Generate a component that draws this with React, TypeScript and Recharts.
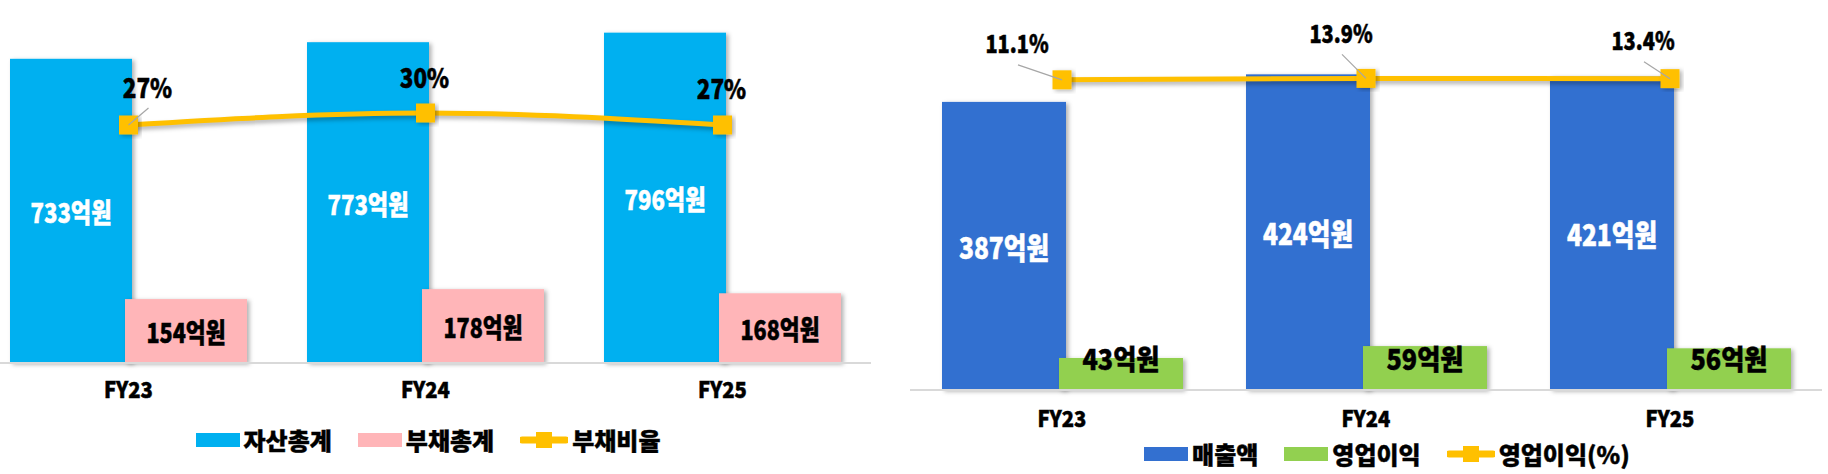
import React from 'react';
import { ComposedChart, Bar, Line, XAxis, YAxis, Legend } from 'recharts';

// 재무상태 (억원, %)
const years = ['FY23', 'FY24', 'FY25'];
const totalAssets = [733, 773, 796];
const totalLiabilities = [154, 178, 168];
const debtRatio = [27, 30, 27];

// 손익 (억원, %)
const revenue = [387, 424, 421];
const operatingProfit = [43, 59, 56];
const operatingMargin = [11.1, 13.9, 13.4];

const balanceSeries = ['자산총계', '부채총계', '부채비율'];
const incomeSeries = ['매출액', '영업이익', '영업이익(%)'];

const balanceData = years.map((year, i) => ({
  year,
  assets: totalAssets[i],
  liabilities: totalLiabilities[i],
  ratio: debtRatio[i],
}));

const incomeData = years.map((year, i) => ({
  year,
  revenue: revenue[i],
  profit: operatingProfit[i],
  margin: operatingMargin[i],
}));

// label placement for the % labels (offset from the point, leader line or not)
const ratioLabelShift = [
  { dx: 19, dy: -39, leader: true },
  { dx: -1, dy: -37, leader: false },
  { dx: -1, dy: -38, leader: false },
];
const marginLabelShift = [
  { dx: -45, dy: -37, leader: true },
  { dx: -25, dy: -46, leader: true },
  { dx: -27, dy: -39, leader: true },
];

const FONT = "'Noto Sans CJK KR', 'Noto Sans', sans-serif";
const YELLOW = '#FFC000';

const SqueezedText = ({ x, y, text, size, fill = '#000', squeeze = 0.82 }: any) => (
  <text
    transform={`translate(${x},${y}) scale(${squeeze},1)`}
    textAnchor="middle"
    dominantBaseline="central"
    fontFamily={FONT}
    fontWeight={900}
    fontSize={size}
    fill={fill}
    stroke={fill}
    strokeWidth={0.5}
  >
    {text}
  </text>
);

const box = (p: any) => {
  const vb = p.viewBox && p.viewBox.width != null ? p.viewBox : p;
  return { x: Number(vb.x), y: Number(vb.y), width: Number(vb.width), height: Number(vb.height) };
};

const middleLabel = (size: number, fill: string, squeeze: number) => (p: any) => {
  const b = box(p);
  return (
    <SqueezedText
      key={`m-${p.index}`}
      x={b.x + b.width / 2}
      y={b.y + b.height / 2}
      text={`${p.value}억원`}
      size={size}
      fill={fill}
      squeeze={squeeze}
    />
  );
};

const baseLabel = (fromBottom: number, size: number, squeeze: number) => (p: any) => {
  const b = box(p);
  return (
    <SqueezedText
      key={`b-${p.index}`}
      x={b.x + b.width / 2}
      y={b.y + b.height - fromBottom}
      text={`${p.value}억원`}
      size={size}
      squeeze={squeeze}
    />
  );
};

const pointLabel = (shifts: any[], size: number, squeeze: number, digits: number) => (p: any) => {
  const s = shifts[p.index] || { dx: 0, dy: -30, leader: false };
  const lx = Number(p.x) + s.dx;
  const ly = Number(p.y) + s.dy;
  return (
    <g key={`p-${p.index}`}>
      {s.leader && (
        <line x1={lx + 1} y1={ly + 22} x2={Number(p.x)} y2={Number(p.y)} stroke="#A6A6A6" strokeWidth={1.2} />
      )}
      <SqueezedText x={lx} y={ly} text={`${Number(p.value).toFixed(digits)}%`} size={size} squeeze={squeeze} />
    </g>
  );
};

const barShape = (filterId: string) => (p: any) => (
  <rect x={p.x} y={p.y} width={p.width} height={p.height} fill={p.fill} filter={`url(#${filterId})`} />
);

const squareDot = (filterId: string) => (p: any) => (
  <rect
    key={`d-${p.index}`}
    x={p.cx - 9.5}
    y={p.cy - 9.5}
    width={19}
    height={19}
    fill={YELLOW}
    filter={`url(#${filterId})`}
  />
);

const yearTick = (down: number) => (p: any) => (
  <SqueezedText x={p.x} y={p.y + down} text={p.payload.value} size={22} squeeze={0.92} />
);

const legendContent = (order: string[], shift: number) => (props: any) => {
  const payload = [...(props.payload || [])].sort(
    (a: any, b: any) => order.indexOf(a.value) - order.indexOf(b.value)
  );
  return (
    <div
      style={{
        display: 'flex',
        justifyContent: 'center',
        alignItems: 'center',
        height: 24,
        transform: `translateX(${shift}px)`,
      }}
    >
      {payload.map((entry: any, i: number) => (
        <div key={entry.value} style={{ display: 'flex', alignItems: 'center', marginLeft: i ? 26 : 0 }}>
          {entry.type === 'line' ? (
            <svg width={48} height={18}>
              <line x1={2} y1={9} x2={46} y2={9} stroke={YELLOW} strokeWidth={7} strokeLinecap="round" />
              <rect x={16} y={1} width={16} height={16} fill={YELLOW} />
            </svg>
          ) : (
            <div style={{ width: 44, height: 14, background: entry.color }} />
          )}
          <span
            style={{
              marginLeft: 4,
              fontFamily: FONT,
              fontWeight: 900,
              fontSize: 24,
              lineHeight: '24px',
              color: '#000',
              WebkitTextStroke: '0.4px #000',
            }}
          >
            {entry.value}
          </span>
        </div>
      ))}
    </div>
  );
};

const ShadowDefs = ({ id }: { id: string }) => (
  <defs>
    <filter id={id} x="-20%" y="-20%" width="140%" height="140%">
      <feDropShadow dx={2.5} dy={1.5} stdDeviation={2} floodColor="#000" floodOpacity={0.3} />
    </filter>
  </defs>
);

const BalanceChart = () => (
  <ComposedChart
    width={891}
    height={474}
    data={balanceData}
    margin={{ top: 31, right: 0, bottom: 22, left: 0 }}
    barGap={-7}
  >
    <ShadowDefs id="shadowLeft" />
    <XAxis
      dataKey="year"
      height={65}
      tickLine={false}
      tickSize={0}
      tickMargin={0}
      axisLine={{ stroke: '#D9D9D9', strokeWidth: 2 }}
      tick={yearTick(25)}
    />
    <YAxis yAxisId="amount" hide domain={[0, 800]} />
    <YAxis yAxisId="ratio" hide domain={[-32.5, 50.5]} />
    <Bar
      yAxisId="amount"
      dataKey="assets"
      name={balanceSeries[0]}
      fill="#00B0F0"
      barSize={122}
      legendType="rect"
      isAnimationActive={false}
      shape={barShape('shadowLeft')}
      label={middleLabel(27, '#fff', 0.82)}
    />
    <Bar
      yAxisId="amount"
      dataKey="liabilities"
      name={balanceSeries[1]}
      fill="#FFB5B8"
      barSize={122}
      legendType="rect"
      isAnimationActive={false}
      shape={barShape('shadowLeft')}
      label={middleLabel(27, '#000', 0.8)}
    />
    <Line
      yAxisId="ratio"
      dataKey="ratio"
      name={balanceSeries[2]}
      type="monotone"
      stroke={YELLOW}
      strokeWidth={5}
      legendType="line"
      isAnimationActive={false}
      dot={squareDot('shadowLeft')}
      activeDot={false}
      style={{ filter: 'drop-shadow(1px 3px 2px rgba(0,0,0,0.3))' }}
      label={pointLabel(ratioLabelShift, 27, 0.83, 0)}
    />
    <Legend verticalAlign="bottom" content={legendContent(balanceSeries, 3)} />
  </ComposedChart>
);

const IncomeChart = () => (
  <ComposedChart
    width={912}
    height={474}
    data={incomeData}
    margin={{ top: 55, right: 0, bottom: 8, left: 0 }}
    barGap={-7}
  >
    <ShadowDefs id="shadowRight" />
    <XAxis
      dataKey="year"
      height={52}
      tickLine={false}
      tickSize={0}
      tickMargin={0}
      axisLine={{ stroke: '#D9D9D9', strokeWidth: 2 }}
      tick={yearTick(27)}
    />
    <YAxis yAxisId="amount" hide domain={[0, 450]} />
    <YAxis yAxisId="margin" hide domain={[-600, 60]} />
    <Bar
      yAxisId="amount"
      dataKey="revenue"
      name={incomeSeries[0]}
      fill="#3370D0"
      barSize={124}
      legendType="rect"
      isAnimationActive={false}
      shape={barShape('shadowRight')}
      label={middleLabel(30, '#fff', 0.82)}
    />
    <Bar
      yAxisId="amount"
      dataKey="profit"
      name={incomeSeries[1]}
      fill="#92D050"
      barSize={124}
      legendType="rect"
      isAnimationActive={false}
      shape={barShape('shadowRight')}
      label={baseLabel(32, 28, 0.9)}
    />
    <Line
      yAxisId="margin"
      dataKey="margin"
      name={incomeSeries[2]}
      type="monotone"
      stroke={YELLOW}
      strokeWidth={5}
      legendType="line"
      isAnimationActive={false}
      dot={squareDot('shadowRight')}
      activeDot={false}
      style={{ filter: 'drop-shadow(1px 3px 2px rgba(0,0,0,0.3))' }}
      label={pointLabel(marginLabelShift, 25, 0.8, 1)}
    />
    <Legend verticalAlign="bottom" content={legendContent(incomeSeries, 21)} />
  </ComposedChart>
);

export default function App() {
  return (
    <div
      style={{
        position: 'absolute',
        left: 0,
        top: 0,
        width: 1828,
        height: 474,
        overflow: 'hidden',
        background: '#fff',
      }}
    >
      <div style={{ position: 'absolute', left: -20.5, top: 0 }}>
        <BalanceChart />
      </div>
      <div style={{ position: 'absolute', left: 910, top: 0 }}>
        <IncomeChart />
      </div>
    </div>
  );
}
